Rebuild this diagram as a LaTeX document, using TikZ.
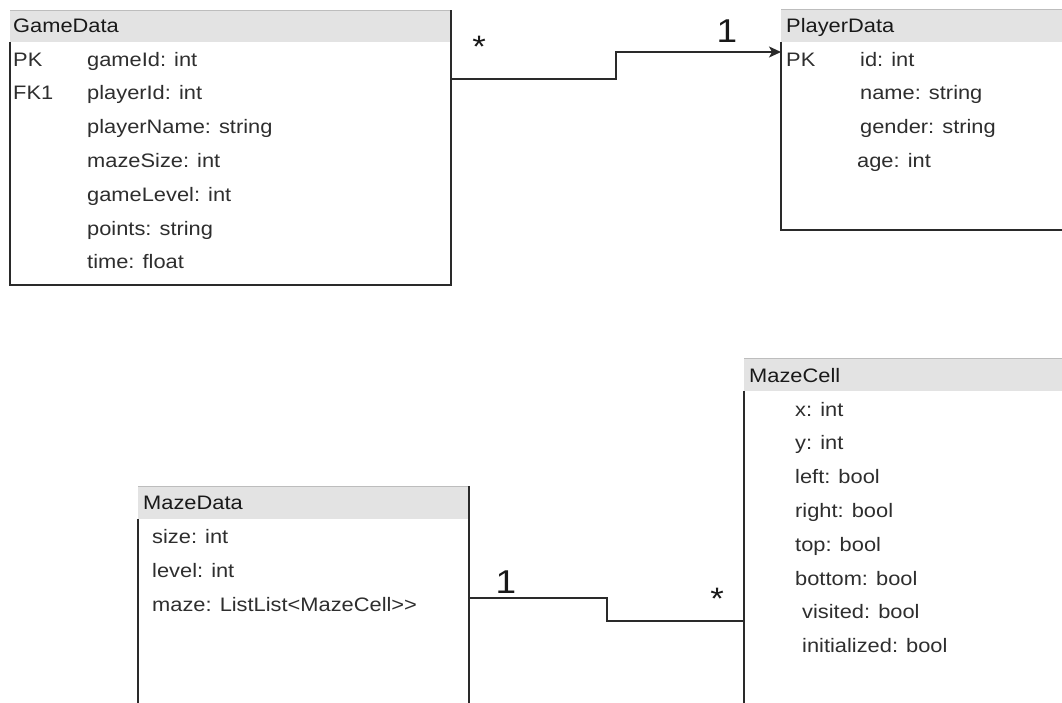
\documentclass[tikz,border=0pt]{standalone}
\usepackage{fontspec}
\setmainfont{Liberation Sans}[FakeStretch=1.12]
\usetikzlibrary{arrows.meta}
\definecolor{hdrgray}{HTML}{E3E3E3}
\definecolor{hdredge}{HTML}{BDBDBD}
\definecolor{linedark}{HTML}{2A2A2A}
\definecolor{textgray}{HTML}{2E2E2E}
\begin{document}
\begin{tikzpicture}[x=1pt,y=-1pt]
\tikzset{
  box/.style={rectangle, inner sep=0pt, outer sep=0pt, anchor=north west},
  hdr/.style={fill=hdrgray},
  hdrline/.style={draw=hdredge, line width=0.8pt},
  border/.style={draw=linedark, line width=1.4pt},
  title/.style={anchor=base west, inner sep=0pt, font=\fontsize{19.5}{20}\selectfont, text=black!90},
  attr/.style={anchor=base west, inner sep=0pt, font=\fontsize{19.5}{20}\selectfont, text=textgray},
  conn/.style={draw=linedark, line width=1.4pt},
  mult/.style={anchor=base, inner sep=0pt, font=\fontsize{33}{34}\selectfont, text=black!90},
  star/.style={anchor=base, inner sep=0pt, font=\fontsize{31}{32}\selectfont, text=black!90}
}
\useasboundingbox (0,0) rectangle (1062,702);
\clip (0,0) rectangle (1062,702);
\fill[white] (0,0) rectangle (1062,702);

% ---------- boxes (frames) ----------
\node[box, minimum width=441pt, minimum height=275pt] (game) at (10,10) {};
\node[box, minimum width=300pt, minimum height=221pt] (player) at (781,9) {};
\node[box, minimum width=331pt, minimum height=230pt] (mazedata) at (138,486) {};
\node[box, minimum width=330pt, minimum height=360pt] (mazecell) at (744,358) {};

% GameData
\fill[hdr] (game.north west) rectangle ([yshift=-32pt]game.north east);
\draw[hdrline] (game.north west) -- (game.north east);
\draw[border] ([yshift=-32pt]game.north west) -- (game.south west) -- (game.south east) -- (game.north east);
% PlayerData
\fill[hdr] (player.north west) rectangle ([yshift=-33pt]player.north east);
\draw[hdrline] (player.north west) -- (player.north east);
\draw[border] ([yshift=-33pt]player.north west) -- (player.south west) -- (player.south east) -- (player.north east);
% MazeData
\fill[hdr] (mazedata.north west) rectangle ([yshift=-33pt]mazedata.north east);
\draw[hdrline] (mazedata.north west) -- (mazedata.north east);
\draw[border] ([yshift=-33pt]mazedata.north west) -- (mazedata.south west) -- (mazedata.south east) -- (mazedata.north east);
% MazeCell
\fill[hdr] (mazecell.north west) rectangle ([yshift=-33pt]mazecell.north east);
\draw[hdrline] (mazecell.north west) -- (mazecell.north east);
\draw[border] ([yshift=-33pt]mazecell.north west) -- (mazecell.south west) -- (mazecell.south east) -- (mazecell.north east);

% ---------- texts ----------
\node[title] (gT) at (13,32) {GameData};
\node[attr] (g1a) at (13,66) {PK};
\node[attr] (g1b) at (87,66) {gameId: int};
\node[attr] (g2a) at (13,99.8) {FK1};
\node[attr] (g2b) at (87,99.8) {playerId: int};
\node[attr] (g3) at (87,133.6) {playerName: string};
\node[attr] (g4) at (87,167.4) {mazeSize: int};
\node[attr] (g5) at (87,201.2) {gameLevel: int};
\node[attr] (g6) at (87,235) {points: string};
\node[attr] (g7) at (87,268.8) {time: float};

\node[title] (pT) at (786,32) {PlayerData};
\node[attr] (p1a) at (786,66) {PK};
\node[attr] (p1b) at (860,66) {id: int};
\node[attr] (p2) at (860,99.8) {name: string};
\node[attr] (p3) at (860,133.6) {gender: string};
\node[attr] (p4) at (857,167.4) {age: int};

\node[title] (dT) at (143,509) {MazeData};
\node[attr] (d1) at (152,543) {size: int};
\node[attr] (d2) at (152,577) {level: int};
\node[attr] (d3) at (152,611) {maze: ListList<MazeCell>{}>};

\node[title] (cT) at (749,382) {MazeCell};
\node[attr] (c1) at (795,416) {x: int};
\node[attr] (c2) at (795,449.8) {y: int};
\node[attr] (c3) at (795,483.6) {left: bool};
\node[attr] (c4) at (795,517.4) {right: bool};
\node[attr] (c5) at (795,551.2) {top: bool};
\node[attr] (c6) at (795,585) {bottom: bool};
\node[attr] (c7) at (802,618.8) {visited: bool};
\node[attr] (c8) at (802,652.6) {initialized: bool};

% ---------- connectors ----------
\coordinate (k1) at (616,79);
\coordinate (k2) at (616,52);
\draw[conn, -{Stealth[length=12pt,width=11pt,inset=3pt]}]
  ([yshift=-69pt]game.north east) -- (k1) -- (k2) -- ([yshift=-43pt]player.north west);
\node[star] (s1) at (479,57) {*};
\node[mult] (m1) at (727,42) {1};

\coordinate (k3) at (607,598);
\coordinate (k4) at (607,621);
\draw[conn] ([yshift=-112pt]mazedata.north east) -- (k3) -- (k4) -- ([yshift=-263pt]mazecell.north west);
\node[mult] (m2) at (506,593) {1};
\node[star] (s2) at (717,609) {*};
\end{tikzpicture}
\end{document}
